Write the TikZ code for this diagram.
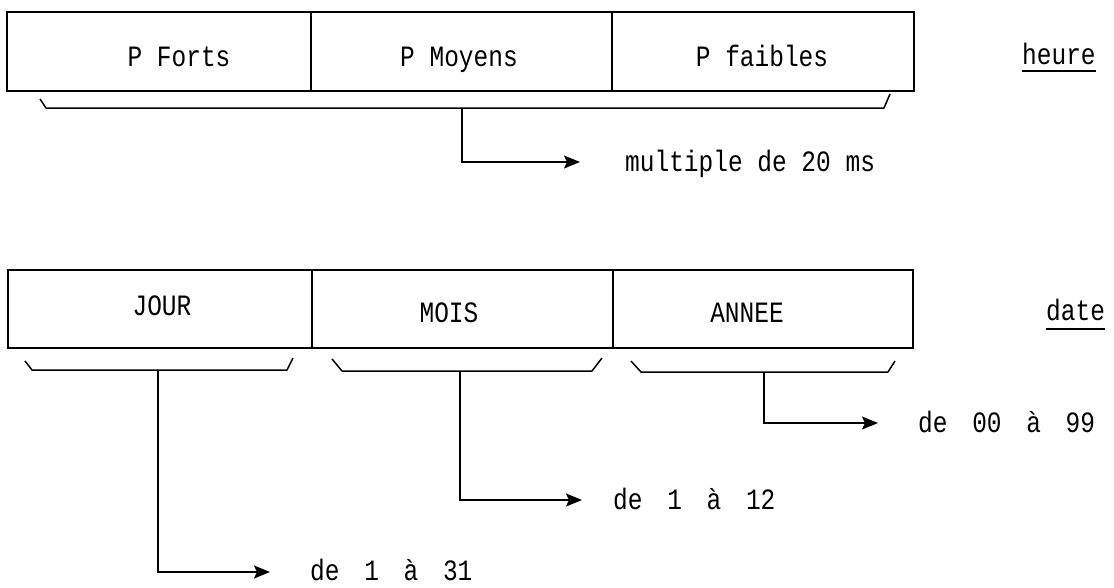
\documentclass[tikz,border=0pt]{standalone}
\usepackage{fontspec}
\setmainfont{Liberation Mono}[FakeStretch=0.83]
\usetikzlibrary{arrows.meta}
\newcommand\gp{\hspace{10pt}}
\begin{document}
\begin{tikzpicture}[x=1pt,y=-1pt,
  cell/.style={draw,line width=1.8pt,inner sep=0pt},
  lbl/.style={font=\fontsize{29.5}{32}\selectfont,inner sep=0pt},
  brace/.style={line width=1.5pt,line join=round},
  arr/.style={line width=1.7pt,-{Stealth[length=16pt,width=13pt,inset=3pt]}},
  uline/.style={line width=1.3pt}]
\useasboundingbox (0,0) rectangle (1114,587);

% top row (heure)
\node[cell,minimum width=304pt,minimum height=79pt] (c1) at (159,51.5) {};
\node[cell,minimum width=301pt,minimum height=79pt] (c2) at (461.5,51.5) {};
\node[cell,minimum width=302pt,minimum height=79pt] (c3) at (763,51.5) {};
\node[lbl,anchor=base] (l1) at (179,66) {P Forts};
\node[lbl,anchor=base] (l2) at (459,66) {P Moyens};
\node[lbl,anchor=base] (l3) at (762,66) {P faibles};
\node[lbl,anchor=base west] (heure) at (1022,64) {heure};
\draw[uline] ([yshift=-7pt]heure.base west) -- ([yshift=-7pt]heure.base east);

\draw[brace] (40,99) -- (46,108) -- (884,108) -- (890,94);
\coordinate (b0) at (462,108);
\coordinate (t0) at (580,162);
\node[lbl,anchor=base west] (m0) at (625,171) {multiple de 20 ms};
\draw[arr] (b0) |- (t0);

% bottom row (date)
\node[cell,minimum width=304pt,minimum height=78pt] (d1) at (160,309) {};
\node[cell,minimum width=301pt,minimum height=78pt] (d2) at (462.5,309) {};
\node[cell,minimum width=300pt,minimum height=78pt] (d3) at (763,309) {};
\node[lbl,anchor=base] (k1) at (162,315) {JOUR};
\node[lbl,anchor=base] (k2) at (449,322) {MOIS};
\node[lbl,anchor=base] (k3) at (747,322) {ANNEE};
\node[lbl,anchor=base west] (date) at (1046,320) {date};
\draw[uline] ([yshift=-9pt]date.base west) -- ([yshift=-9pt]date.base east);

\draw[brace] (25,361) -- (32,370) -- (287,370) -- (293,358);
\draw[brace] (332,359) -- (342,371) -- (592,371) -- (602,358);
\draw[brace] (631,361) -- (641,372) -- (888,372) -- (895,361);

\coordinate (s1) at (158,370);
\coordinate (s2) at (460,371);
\coordinate (s3) at (764,372);
\coordinate (u1) at (270,572);
\coordinate (u2) at (582,500);
\coordinate (u3) at (878,423);
\node[lbl,anchor=base west] (r1) at (310,580) {de~\gp{}1~\gp{}à~\gp{}31};
\node[lbl,anchor=base west] (r2) at (613,509) {de~\gp{}1~\gp{}à~\gp{}12};
\node[lbl,anchor=base west] (r3) at (918,432) {de~\gp{}00~\gp{}à~\gp{}99};
\draw[arr] (s1) |- (u1);
\draw[arr] (s2) |- (u2);
\draw[arr] (s3) |- (u3);
\end{tikzpicture}
\end{document}
